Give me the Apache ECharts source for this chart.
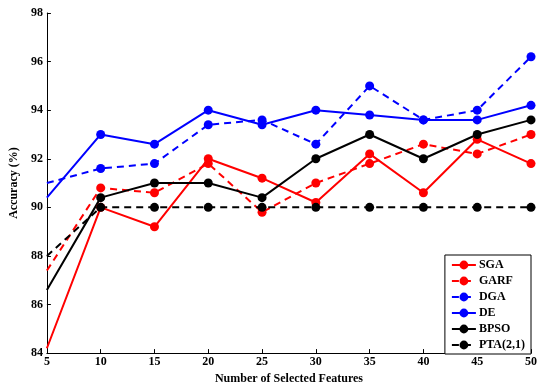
<!DOCTYPE html>
<html><head><meta charset="utf-8">
<script src="https://cdn.jsdelivr.net/npm/echarts@6/dist/echarts.min.js"></script>
<style>html,body{margin:0;padding:0;background:#fff}#c{width:540px;height:390px}</style>
</head><body><div id="c"></div>
<script>
const features = [5,10,15,20,25,30,35,40,45,50];
const SGA  = [84.2,90.0,89.2,92.0,91.2,90.2,92.2,90.6,92.8,91.8];
const GARF = [87.4,90.8,90.6,91.8,89.8,91.0,91.8,92.6,92.2,93.0];
const DGA  = [91.0,91.6,91.8,93.4,93.6,92.6,95.0,93.6,94.0,96.2];
const DE   = [90.4,93.0,92.6,94.0,93.4,94.0,93.8,93.6,93.6,94.2];
const BPSO = [86.6,90.4,91.0,91.0,90.4,92.0,93.0,92.0,93.0,93.6];
const PTA  = [88.0,90.0,90.0,90.0,90.0,90.0,90.0,90.0,90.0,90.0];

const font = 'Liberation Serif';
function mk(name, vals, color, dashed){
  return {
    name, type:'line', color,
    data: vals.map((v,i)=> i===0 ? {value:[features[i],v], symbol:'none'} : {value:[features[i],v]}),
    symbol:'circle', symbolSize:9,
    lineStyle:{width:2, color, type: dashed ? [7,5] : 'solid'},
    itemStyle:{color},
    animation:false, z: 2
  };
}
const chart = echarts.init(document.getElementById('c'));
chart.setOption({
  backgroundColor:'#fff',
  animation:false,
  grid:{left:38, right:7, top:13, bottom:36},
  xAxis:{type:'value', min:5, max:50, interval:5,
    name:'Number of Selected Features', nameLocation:'middle', nameGap:18,
    nameTextStyle:{fontFamily:font, fontWeight:'bold', fontSize:12, color:'#000'},
    axisLine:{lineStyle:{color:'#000', width:1}},
    axisTick:{inside:true, length:4, lineStyle:{color:'#000'}},
    axisLabel:{fontFamily:font, fontWeight:'bold', fontSize:12, color:'#000', margin:3},
    splitLine:{show:false}},
  yAxis:{type:'value', min:84, max:98, interval:2,
    name:'Accuracy (%)', nameLocation:'middle', nameGap:26,
    nameTextStyle:{fontFamily:font, fontWeight:'bold', fontSize:12, color:'#000'},
    axisLine:{show:true, lineStyle:{color:'#000', width:1}},
    axisTick:{show:true, inside:true, length:4, lineStyle:{color:'#000'}},
    axisLabel:{fontFamily:font, fontWeight:'bold', fontSize:12, color:'#000', margin:4},
    splitLine:{show:false}},
  legend:{
    orient:'vertical', right:9, top:255,
    backgroundColor:'#fff', borderColor:'#000', borderWidth:1, borderRadius:0,
    padding:[4,6,3,6], itemGap:4, itemWidth:24, itemHeight:11,
    textStyle:{fontFamily:font, fontWeight:'bold', fontSize:12, color:'#000', padding:[0,0,0,-2]},
    data:['SGA','GARF','DGA','DE','BPSO','PTA(2,1)']
  },
  series:[
    mk('SGA', SGA, '#ff0000', false),
    mk('GARF', GARF, '#ff0000', true),
    mk('DGA', DGA, '#0000ff', true),
    mk('DE', DE, '#0000ff', false),
    mk('BPSO', BPSO, '#000000', false),
    mk('PTA(2,1)', PTA, '#000000', true)
  ]
});
</script></body></html>
